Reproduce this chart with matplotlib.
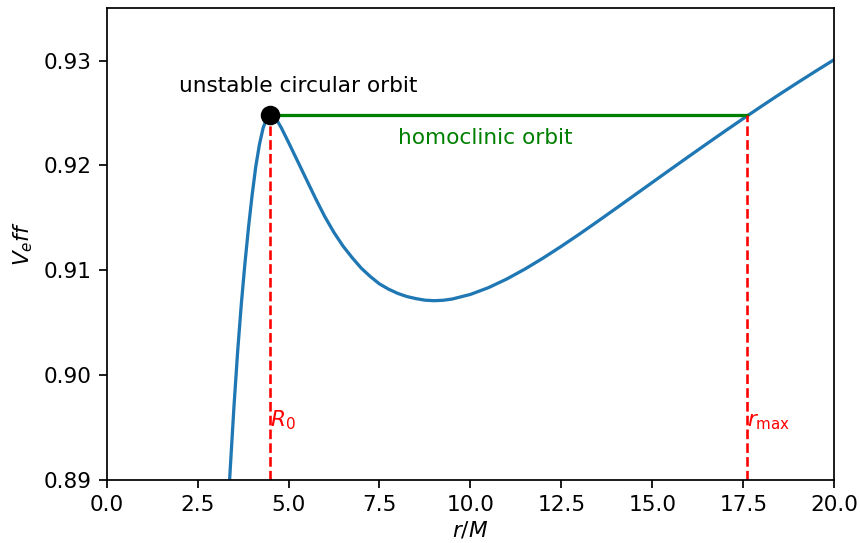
import matplotlib
matplotlib.use("Agg")
import matplotlib.pyplot as plt

# effective potential
r_vals = [3.38, 3.40, 3.50, 3.60, 3.70, 3.80, 3.90, 4.00, 4.10, 4.20, 4.30,
          4.40, 4.50, 4.60, 4.70, 4.80, 4.90, 5.00, 5.25, 5.50, 5.75, 6.00,
          6.25, 6.50, 6.75, 7.00, 7.25, 7.50, 7.75, 8.00, 8.25, 8.50, 8.75,
          9.00, 9.25, 9.50, 10.00, 10.50, 11.00, 11.50, 12.00, 12.50, 13.00,
          13.50, 14.00, 14.50, 15.00, 15.50, 16.00, 16.50, 17.00, 17.50,
          18.00, 18.50, 19.00, 19.50, 20.00]
v_eff = [0.89000, 0.89120, 0.89700, 0.90220, 0.90670, 0.91060, 0.91410,
         0.91720, 0.91990, 0.92200, 0.92355, 0.92450, 0.92480, 0.92460,
         0.92420, 0.92360, 0.92290, 0.92220, 0.92040, 0.91860, 0.91680,
         0.91510, 0.91360, 0.91230, 0.91120, 0.91020, 0.90940, 0.90870,
         0.90820, 0.90780, 0.90750, 0.90730, 0.90715, 0.90710, 0.90714,
         0.90726, 0.90770, 0.90835, 0.90917, 0.91012, 0.91117, 0.91229,
         0.91346, 0.91467, 0.91590, 0.91714, 0.91838, 0.91962, 0.92085,
         0.92207, 0.92328, 0.92447, 0.92564, 0.92679, 0.92791, 0.92901,
         0.93009]

R0 = 4.5
r_max = 17.6
V0 = 0.9248

fig, ax = plt.subplots(figsize=(860 / 156, 543 / 156), dpi=156)
fig.subplots_adjust(left=0.124, right=0.970, top=0.985, bottom=0.116)

ax.plot(r_vals, v_eff, color='C0')
ax.plot([R0, r_max], [V0, V0], color='green')
ax.plot([R0, R0], [0.89, V0], 'r--', lw=1.2)
ax.plot([r_max, r_max], [0.89, V0], 'r--', lw=1.2)
ax.plot([R0], [V0], 'ko', ms=8)

ax.text(2.0, 0.927, 'unstable circular orbit', color='black')
ax.text(8.0, 0.922, 'homoclinic orbit', color='green')
ax.text(4.5, 0.8951, r'$R_0$', color='red')
ax.text(17.6, 0.8951, r'$r_{\max}$', color='red')

ax.set_xlim(0, 20)
ax.set_ylim(0.89, 0.935)
ax.set_xlabel(r'$r/M$', labelpad=2)
ax.set_ylabel(r'$V_eff$')

fig.savefig('out.png', dpi=156)
